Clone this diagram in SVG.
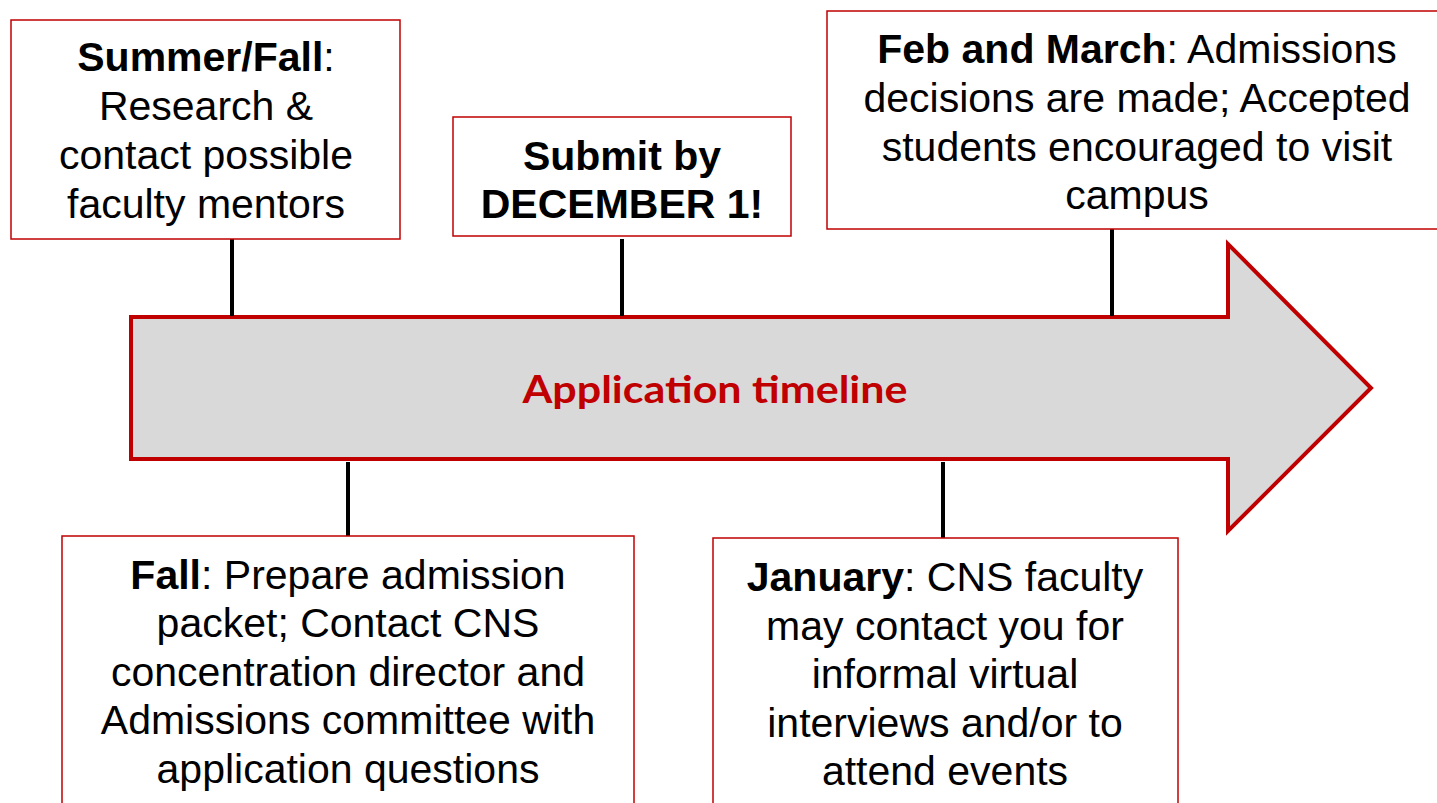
<svg xmlns="http://www.w3.org/2000/svg" width="1437" height="803" viewBox="0 0 1437 803">
<style>
.box{fill:#fff;stroke:#C00000;stroke-width:1.5}
.t{font-family:"Liberation Sans",Arial,sans-serif;font-size:41px;fill:#000;text-anchor:middle}
.b{font-weight:bold}
.conn{stroke:#000;stroke-width:4;fill:none}
</style>
<rect width="1437" height="803" fill="#fff"/>
<g id="timeline">
<polygon points="131,317 1228,317 1228,244 1371,388 1228,531 1228,459 131,459" fill="#D9D9D9" stroke="#C00000" stroke-width="4"/>
<text x="715" y="403" font-family="Lato,'Open Sans',sans-serif" font-weight="bold" font-size="38" fill="#C00000" text-anchor="middle" textLength="385" lengthAdjust="spacingAndGlyphs">Application timeline</text>
</g>
<g id="connectors">
<line class="conn" x1="232" y1="239" x2="232" y2="316"/>
<line class="conn" x1="622" y1="239" x2="622" y2="316"/>
<line class="conn" x1="1112" y1="229" x2="1112" y2="316"/>
<line class="conn" x1="348" y1="462" x2="348" y2="537"/>
<line class="conn" x1="943" y1="462" x2="943" y2="538"/>
</g>
<g id="summer-fall">
<rect class="box" x="11" y="20" width="389" height="219"/>
<text class="t" x="206" y="71"><tspan class="b">Summer/Fall</tspan>:</text>
<text class="t" x="206" y="120">Research &amp;</text>
<text class="t" x="206" y="169">contact possible</text>
<text class="t" x="206" y="218">faculty mentors</text>
</g>
<g id="submit">
<rect class="box" x="453" y="117" width="338" height="119"/>
<text class="t b" x="622" y="170">Submit by</text>
<text class="t b" x="622" y="218">DECEMBER 1!</text>
</g>
<g id="feb-march">
<rect class="box" x="827" y="11" width="615" height="218"/>
<text class="t" x="1137" y="63"><tspan class="b">Feb and March</tspan>: Admissions</text>
<text class="t" x="1137" y="112">decisions are made; Accepted</text>
<text class="t" x="1137" y="161">students encouraged to visit</text>
<text class="t" x="1137" y="209">campus</text>
</g>
<g id="fall">
<rect class="box" x="62" y="536" width="572" height="275"/>
<text class="t" x="348" y="589"><tspan class="b">Fall</tspan>: Prepare admission</text>
<text class="t" x="348" y="637">packet; Contact CNS</text>
<text class="t" x="348" y="686">concentration director and</text>
<text class="t" x="348" y="734">Admissions committee with</text>
<text class="t" x="348" y="783">application questions</text>
</g>
<g id="january">
<rect class="box" x="713" y="538" width="465" height="275"/>
<text class="t" x="945" y="591"><tspan class="b">January</tspan>: CNS faculty</text>
<text class="t" x="945" y="640">may contact you for</text>
<text class="t" x="945" y="688">informal virtual</text>
<text class="t" x="945" y="737">interviews and/or to</text>
<text class="t" x="945" y="785">attend events</text>
</g>
</svg>
